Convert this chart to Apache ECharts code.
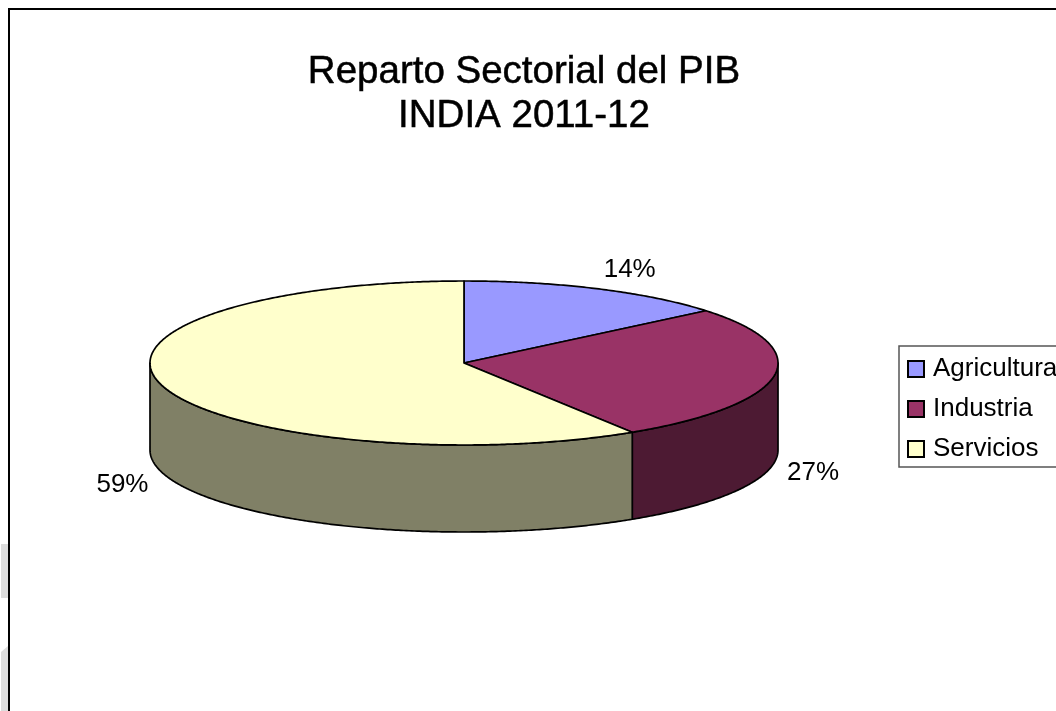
<!DOCTYPE html>
<html>
<head>
<meta charset="utf-8">
<style>html,body{margin:0;padding:0;background:#fff;overflow:hidden}#c{width:1056px;height:711px}</style>
<script src="https://cdn.jsdelivr.net/npm/echarts@6/dist/echarts.min.js"></script>
</head>
<body>
<div id="c"></div>
<script>
var categories = ['Agricultura', 'Industria', 'Servicios'];
var values = [14, 27, 59];
var topColors = ['#9999FF', '#993366', '#FFFFCC'];
var sideColors = ['#4D4D80', '#4D1A33', '#808066'];
var labelOffsets = [[32, -19], [39, 10], [-40, 12]];

var FONT = '"Liberation Sans", Arial, sans-serif';
var cx = 464, cy = 363, rx = 314, ry = 82, depth = 87;
var total = values.reduce(function (a, b) { return a + b; }, 0);

function pt(deg, dy) {
  var t = deg * Math.PI / 180;
  return [cx + rx * Math.sin(t), cy - ry * Math.cos(t) + (dy || 0)];
}
function arc(a, b, dy) {
  var out = [], n = Math.max(2, Math.ceil(Math.abs(b - a) * 2));
  for (var i = 0; i <= n; i++) out.push(pt(a + (b - a) * i / n, dy));
  return out;
}
function renderSlice(idx) {
  return function (params, api) {
    var v = api.value(0), before = 0;
    for (var i = 0; i < idx; i++) before += values[i];
    var a = before / total * 360, b = (before + v) / total * 360;
    var style = { stroke: '#000', lineWidth: 1.7, lineJoin: 'round' };
    var children = [];
    var sa = Math.max(a, 90), sb = Math.min(b, 270);
    if (sb > sa) {
      children.push({
        type: 'polygon',
        shape: { points: arc(sa, sb, 0).concat(arc(sb, sa, depth)) },
        style: Object.assign({ fill: sideColors[idx] }, style)
      });
    }
    children.push({
      type: 'polygon',
      shape: { points: [[cx, cy]].concat(arc(a, b, 0)) },
      style: Object.assign({ fill: topColors[idx] }, style)
    });
    var mid = (a + b) / 2;
    var anchor = pt(mid, mid > 90 && mid < 270 ? depth : 0);
    children.push({
      type: 'text',
      x: anchor[0] + labelOffsets[idx][0],
      y: anchor[1] + labelOffsets[idx][1],
      style: {
        text: Math.round(v / total * 100) + '%',
        fill: '#000', font: '26px ' + FONT,
        align: 'center', verticalAlign: 'middle'
      }
    });
    return { type: 'group', children: children };
  };
}

var chart = echarts.init(document.getElementById('c'), null, { renderer: 'canvas' });
chart.setOption({
  animation: false,
  backgroundColor: '#fff',
  title: {
    text: 'Reparto Sectorial del PIB\nINDIA 2011-12',
    left: 519, top: 45, textAlign: 'center',
    textStyle: {
      fontFamily: FONT, fontSize: 38.5, fontWeight: 'normal', color: '#000', lineHeight: 44,
      textBorderColor: '#000', textBorderWidth: 0.5
    }
  },
  legend: {
    orient: 'vertical', left: 899, top: 346,
    data: categories,
    backgroundColor: '#fff', borderColor: '#555', borderWidth: 1.5,
    padding: [10, 40, 5, 8], itemGap: 14, itemWidth: 16, itemHeight: 16,
    icon: 'rect',
    textStyle: { fontFamily: FONT, fontSize: 26, color: '#000', padding: [0, 0, 0, 4] },
    selectedMode: false
  },
  graphic: [
    { type: 'rect', z: -1, shape: { x: 1, y: 544, width: 7, height: 54 }, style: { fill: '#dcdcdc' } },
    { type: 'polygon', z: -1, shape: { points: [[1, 652], [8, 646], [8, 711], [1, 711]] }, style: { fill: '#dcdcdc' } },
    { type: 'rect', z: -1, shape: { x: 9, y: 9, width: 1200, height: 900 }, style: { fill: 'none', stroke: '#000', lineWidth: 2 } }
  ],
  series: categories.map(function (name, i) {
    return {
      type: 'custom', name: name, coordinateSystem: 'none', silent: true,
      itemStyle: { color: topColors[i], borderColor: '#000', borderWidth: 1.5 },
      renderItem: renderSlice(i),
      data: [[values[i]]]
    };
  })
});
</script>
</body>
</html>
